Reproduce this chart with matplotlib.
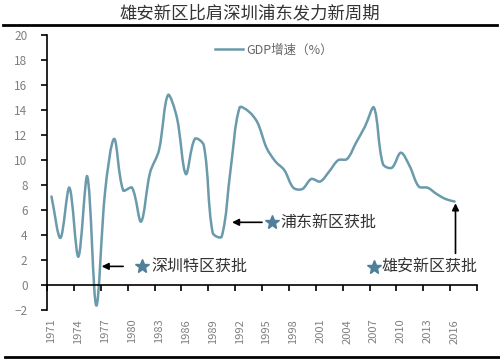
import matplotlib
matplotlib.use("Agg")
import matplotlib.pyplot as plt
from matplotlib.path import Path
from matplotlib.patches import PathPatch
from matplotlib.lines import Line2D
import numpy as np

plt.rcParams['font.family'] = ['Noto Sans CJK SC', 'DejaVu Sans']

# GDP growth (%), 1971-2016
years = list(range(1971, 2017))
gdp = [7.1, 3.8, 7.8, 2.3, 8.7, -1.6, 7.6, 11.7, 7.6, 7.8,
       5.1, 9.0, 10.8, 15.2, 13.4, 8.9, 11.7, 11.2, 4.2, 3.9,
       9.3, 14.2, 13.9, 13.0, 11.0, 9.9, 9.2, 7.8, 7.7, 8.5,
       8.3, 9.1, 10.0, 10.1, 11.4, 12.7, 14.2, 9.7, 9.4, 10.6,
       9.5, 7.9, 7.8, 7.3, 6.9, 6.7]
label_years = list(range(1971, 2017, 3))
yticks = list(range(-2, 21, 2))

title = '雄安新区比肩深圳浦东发力新周期'
legend_text = 'GDP增速（%）'
notes = ['深圳特区获批', '浦东新区获批', '雄安新区获批']

line_color = '#6a9aab'
star_color = '#4f7f99'
gray = '#7f7f7f'

fig = plt.figure(figsize=(5, 3.61), dpi=100)
ax = fig.add_axes([0.094, 0.140, 0.860, 0.763])
ax.set_xlim(1970.5, 2018.5)
ax.set_ylim(-2, 20)

# smoothed line: bezier handles scaled by neighbouring segment lengths (screen space)
pts = ax.transData.transform(np.column_stack([years, gdp]))
n = len(pts)
d = np.hypot(*(pts[1:] - pts[:-1]).T)
verts = [pts[0]]
codes = [Path.MOVETO]
for i in range(n - 1):
    if i == 0:
        c1 = pts[0] + (pts[1] - pts[0]) / 3
    else:
        c1 = pts[i] + (pts[i + 1] - pts[i - 1]) * d[i] / (d[i - 1] + d[i]) / 3
    if i + 2 >= n:
        c2 = pts[i + 1] - (pts[i + 1] - pts[i]) / 3
    else:
        c2 = pts[i + 1] - (pts[i + 2] - pts[i]) * d[i] / (d[i] + d[i + 1]) / 3
    verts += [c1, c2, pts[i + 1]]
    codes += [Path.CURVE4] * 3
verts = ax.transData.inverted().transform(np.array(verts))
ax.add_patch(PathPatch(Path(verts, codes), facecolor='none',
                       edgecolor=line_color, lw=1.8, capstyle='round'))
ax.plot([], [], color=line_color, lw=1.8, label=legend_text)

for s in ['top', 'right']:
    ax.spines[s].set_visible(False)
ax.spines['bottom'].set_position(('data', 0))
ax.spines['left'].set_linewidth(1.2)
ax.spines['bottom'].set_linewidth(1.2)

ax.set_yticks(yticks)
ax.tick_params(axis='y', length=4, width=1.2, pad=10, labelsize=8.5, labelcolor=gray)

ax.set_xticks(np.arange(1970.5, 2019, 3))
ax.set_xticklabels([])
ax.tick_params(axis='x', which='major', length=4, width=1.2, direction='out')
ax.set_xticks(label_years, minor=True)
ax.set_xticklabels([str(v) for v in label_years], minor=True, rotation=90)
ax.tick_params(axis='x', which='minor', length=0, pad=24, labelsize=8, labelcolor=gray)

leg = ax.legend(loc='center', bbox_to_anchor=(0.528, 0.946), frameon=False,
                fontsize=9, handlelength=2.2, handletextpad=0.3)
for t in leg.get_texts():
    t.set_color('#666666')

# annotations
ann_kw = dict(arrowprops=dict(arrowstyle='-|>', color='black', lw=1.2,
                              mutation_scale=10, shrinkA=0, shrinkB=0))
ax.annotate('', xy=(1976.6, 1.52), xytext=(1979.0, 1.52), **ann_kw)
ax.plot(1981.1, 1.52, marker='*', ms=10, color=star_color, ls='none')
ax.text(1982.1, 1.52, notes[0], fontsize=11.5, va='center', color='#333333')

ax.annotate('', xy=(1991.15, 5.04), xytext=(1994.5, 5.04), **ann_kw)
ax.plot(1995.6, 5.04, marker='*', ms=10, color=star_color, ls='none')
ax.text(1996.6, 5.04, notes[1], fontsize=11.5, va='center', color='#333333')

ax.annotate('', xy=(2016.1, 6.56), xytext=(2016.1, 2.56), **ann_kw)
ax.plot(2007.0, 1.44, marker='*', ms=10, color=star_color, ls='none')
ax.text(2007.8, 1.44, notes[2], fontsize=11.5, va='center', color='#333333')

fig.text(0.5, 0.962, title, ha='center', va='center', fontsize=12.5, color='#333333')
fig.add_artist(Line2D([0.006, 0.994], [0.930, 0.930], color='black', lw=2))
fig.add_artist(Line2D([0.01, 1.0], [0.010, 0.010], color='black', lw=2))

fig.savefig('out.png', dpi=100)
